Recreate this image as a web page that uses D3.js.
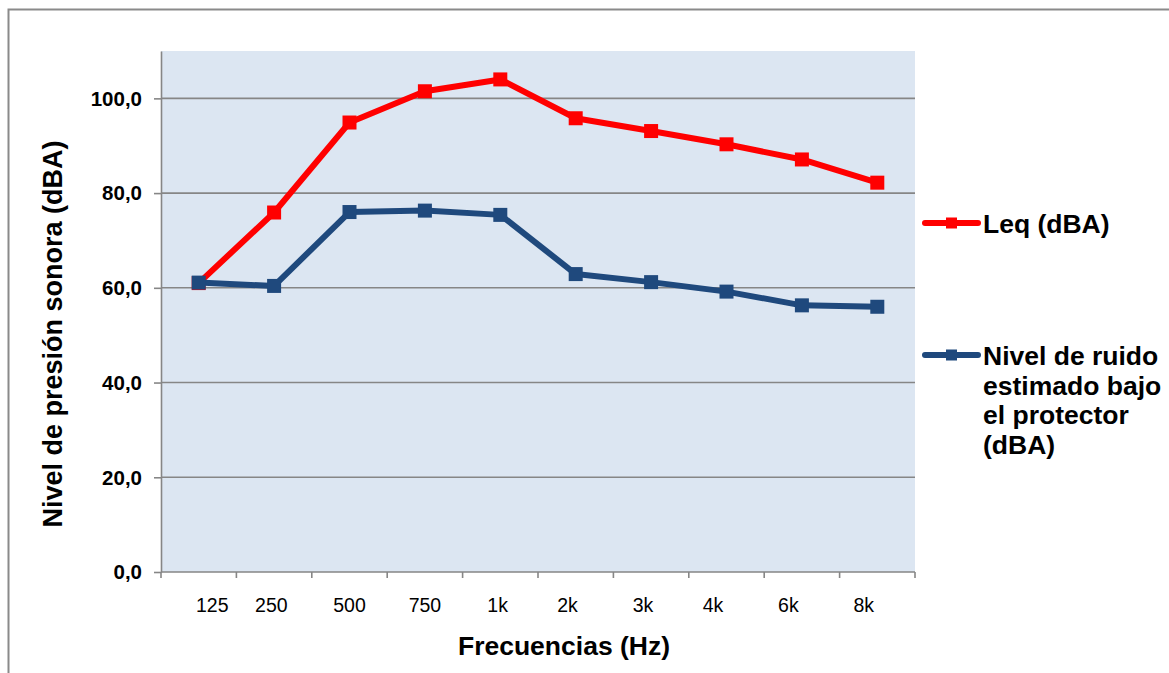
<!DOCTYPE html>
<html>
<head>
<meta charset="utf-8">
<script src="https://cdn.jsdelivr.net/npm/d3@7"></script>
<style>
  html, body { margin: 0; padding: 0; background: #ffffff; }
  svg { display: block; font-family: "Liberation Sans", Arial, sans-serif; }
  .xtick text { white-space: pre; }
</style>
</head>
<body>
<svg id="chart" width="1169" height="673"></svg>
<script>
// Frequency bands (category labels carry their original padding)
const categories = ["125", "250", "500", "750", "1k", "2k", "3k", "4k", "6k", "8k"];
const tickLabels = ["     125", "250 ", "500", "750", "1k ", "2k   ", "3k   ", "4k     ", "6k     ", "8k     "];

// Sound pressure levels per band
const leqValues = [61.0, 75.9, 94.9, 101.5, 104.0, 95.8, 93.1, 90.3, 87.1, 82.2];
const protectedValues = [61.1, 60.4, 76.0, 76.3, 75.4, 62.9, 61.2, 59.2, 56.3, 56.0];

const yTicks = [0, 20, 40, 60, 80, 100];

const seriesNames = ["Leq (dBA)", ["Nivel de ruido", "estimado bajo", "el protector", "(dBA)"]];
const seriesColors = ["#ff0000", "#1f497d"];

const svg = d3.select("#chart");
const plot = { left: 161, right: 915, top: 51, bottom: 572 };
const gridColor = "#868686";

// Outer chart frame
svg.append("rect")
  .attr("x", 8.5).attr("y", 9.5)
  .attr("width", 1200).attr("height", 700)
  .attr("fill", "#ffffff")
  .attr("stroke", "#8a8a8a").attr("stroke-width", 2);

const x = d3.scaleBand().domain(categories).range([plot.left, plot.right]).padding(0);
const y = d3.scaleLinear().domain([0, 110]).range([plot.bottom, plot.top]);

// Plot background
svg.append("rect")
  .attr("x", plot.left).attr("y", plot.top)
  .attr("width", plot.right - plot.left).attr("height", plot.bottom - plot.top)
  .attr("fill", "#dce6f2");

// Horizontal gridlines
svg.append("g").selectAll("line")
  .data(yTicks.filter(d => d > 0))
  .join("line")
  .attr("x1", plot.left).attr("x2", plot.right)
  .attr("y1", d => y(d)).attr("y2", d => y(d))
  .attr("stroke", gridColor).attr("stroke-width", 1.6);

// Y axis with comma decimals
const fmt = d3.formatLocale({ decimal: ",", thousands: ".", grouping: [3], currency: ["", ""] }).format(".1f");
const yAxis = svg.append("g")
  .attr("transform", `translate(${plot.left},0)`)
  .call(d3.axisLeft(y).tickValues(yTicks).tickFormat(fmt).tickSize(7).tickPadding(12).tickSizeOuter(0));
yAxis.select(".domain").attr("stroke", gridColor).attr("stroke-width", 1.6);
yAxis.selectAll(".tick line").attr("stroke", gridColor).attr("stroke-width", 1.6);
yAxis.selectAll(".tick text")
  .attr("fill", "#000").attr("font-size", 20.5).attr("font-weight", "bold")
  .attr("font-family", "Liberation Sans, Arial, sans-serif")
  .attr("dy", "0.33em");

// X axis with tick marks on band boundaries
const xAxisG = svg.append("g").attr("transform", `translate(0,${plot.bottom})`);
xAxisG.append("line")
  .attr("x1", plot.left).attr("x2", plot.right)
  .attr("stroke", gridColor).attr("stroke-width", 1.6);
const bounds = categories.map(c => x(c)).concat([x(categories[categories.length - 1]) + x.bandwidth()]);
xAxisG.selectAll("line.tk")
  .data(bounds)
  .join("line").attr("class", "tk")
  .attr("x1", d => d).attr("x2", d => d)
  .attr("y1", 0).attr("y2", 6)
  .attr("stroke", gridColor).attr("stroke-width", 1.6);
xAxisG.selectAll("text")
  .data(categories)
  .join("text")
  .attr("class", "xtick")
  .attr("x", d => x(d) + x.bandwidth() / 2)
  .attr("y", 40)
  .attr("text-anchor", "middle")
  .attr("font-size", 19.5)
  .attr("fill", "#000")
  .style("white-space", "pre")
  .text((d, i) => tickLabels[i]);

// Axis titles
svg.append("text")
  .attr("x", 564).attr("y", 655)
  .attr("text-anchor", "middle")
  .attr("font-size", 26.5).attr("font-weight", "bold")
  .text("Frecuencias (Hz)");
svg.append("text")
  .attr("transform", "translate(62,334) rotate(-90)")
  .attr("text-anchor", "middle")
  .attr("font-size", 27).attr("font-weight", "bold")
  .text("Nivel de presión sonora (dBA)");

// Series lines and square markers (Leq first, protected level on top)
const seriesData = [leqValues, protectedValues];
const line = d3.line()
  .x((d, i) => x(categories[i]) + x.bandwidth() / 2)
  .y(d => y(d));

seriesData.forEach((vals, s) => {
  const g = svg.append("g");
  g.append("path")
    .attr("d", line(vals))
    .attr("fill", "none")
    .attr("stroke", seriesColors[s])
    .attr("stroke-width", 6)
    .attr("stroke-linejoin", "round")
    .attr("stroke-linecap", "round");
  const m = 14;
  g.selectAll("rect")
    .data(vals)
    .join("rect")
    .attr("x", (d, i) => x(categories[i]) + x.bandwidth() / 2 - m / 2)
    .attr("y", d => y(d) - m / 2)
    .attr("width", m).attr("height", m)
    .attr("fill", seriesColors[s]);
});

// Legend
const legendY = [223, 355];
seriesNames.forEach((name, s) => {
  const g = svg.append("g").attr("transform", `translate(0,${legendY[s]})`);
  g.append("line")
    .attr("x1", 925).attr("x2", 978)
    .attr("stroke", seriesColors[s]).attr("stroke-width", 6)
    .attr("stroke-linecap", "round");
  g.append("rect")
    .attr("x", 946).attr("y", -5.5)
    .attr("width", 11).attr("height", 11)
    .attr("fill", seriesColors[s]);
  const lines = Array.isArray(name) ? name : [name];
  const t = g.append("text")
    .attr("x", 983).attr("y", 10)
    .attr("font-size", 26.5).attr("font-weight", "bold").attr("fill", "#000");
  lines.forEach((l, i) => {
    t.append("tspan").attr("x", 983).attr("dy", i === 0 ? 0 : 29.5).text(l);
  });
});
</script>
</body>
</html>
